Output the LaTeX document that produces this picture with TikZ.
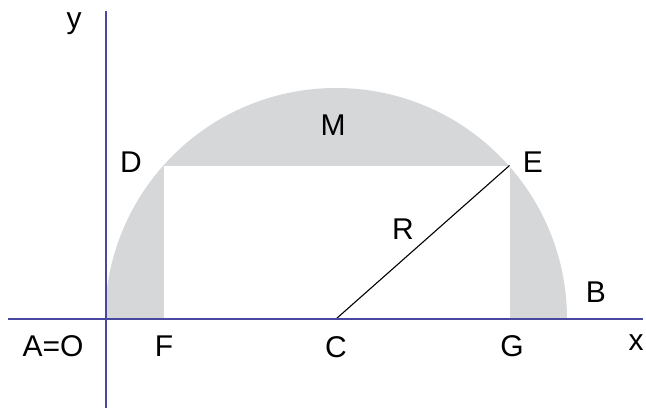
\documentclass[tikz,border=0pt]{standalone}
\usepackage{fontspec}
\setmainfont{Liberation Sans}
\definecolor{axisblue}{RGB}{72,72,160}
\definecolor{discgray}{RGB}{214,215,217}
\begin{document}
\begin{tikzpicture}[x=1pt,y=1pt,
  lbl/.style={font=\fontsize{30}{30}\selectfont, inner sep=0pt},
  axis/.style={draw=axisblue, line width=1.6pt}]
\useasboundingbox (0,0) rectangle (646,408);
% key points
\coordinate (O) at (105.5,89);
\coordinate (C) at (336,89);
\coordinate (D) at (164,242.5);
\coordinate (E) at (509.5,242.5);
\coordinate (F) at (164,89);
\coordinate (G) at (509.5,89);
\coordinate (xs) at (8,89);
\coordinate (xe) at (643,89);
\coordinate (ys) at (106,397);
\coordinate (ye) at (106,0);
% shaded half disc
\fill[fill=discgray] (105,89) arc[start angle=180,end angle=0,radius=231pt] -- cycle;
\fill[fill=white] (F) rectangle (E);
% radius
\draw[black, line width=1.1pt] (C) -- (E);
% axes
\draw[axis] (xs) -- (xe);
\draw[axis] (ys) -- (ye);
% labels
\node[lbl] (ly) at (74,384) {y};
\node[lbl] (lD) at (131,246) {D};
\node[lbl] (lM) at (333,283) {M};
\node[lbl] (lE) at (533,246) {E};
\node[lbl] (lR) at (403,179) {R};
\node[lbl] (lB) at (596,116) {B};
\node[lbl] (lAO) at (53,62) {A=O};
\node[lbl] (lF) at (164,62) {F};
\node[lbl] (lC) at (336,61) {C};
\node[lbl] (lG) at (512,62) {G};
\node[lbl] (lx) at (636,65) {x};
\end{tikzpicture}
\end{document}
